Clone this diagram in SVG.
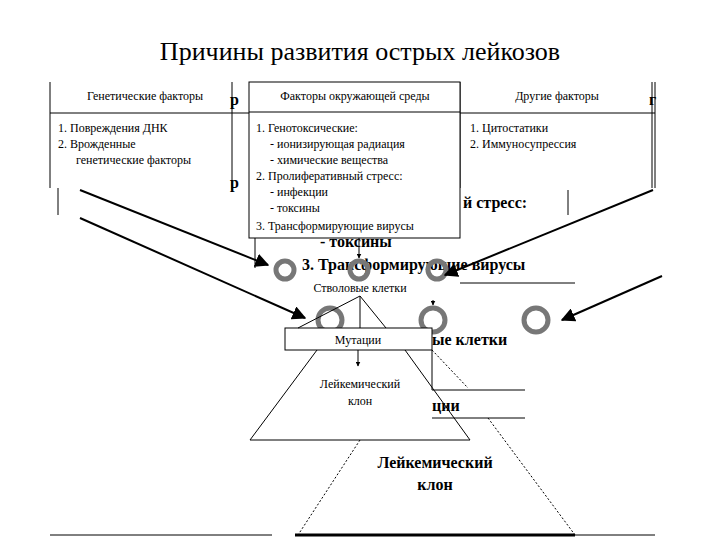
<svg xmlns="http://www.w3.org/2000/svg" width="720" height="540" viewBox="0 0 720 540">
<defs>
<marker id="ah" viewBox="0 0 10 10" refX="9" refY="5" markerWidth="7" markerHeight="7" orient="auto"><path d="M0,0L10,5L0,10z" fill="#000"/></marker>
<marker id="as" viewBox="0 0 10 10" refX="9" refY="5" markerWidth="5" markerHeight="5" orient="auto"><path d="M0,0L10,5L0,10z" fill="#000"/></marker>
</defs>
<style>
text{font-family:"Liberation Serif",serif;fill:#000}
.s{font-size:12px}
.b{font-size:16px;font-weight:bold}
.t{font-size:26px}
.l{stroke:#000;stroke-width:1;fill:none}
.ring{fill:none;stroke:#777;stroke-width:5}
.d{stroke:#000;stroke-width:1;stroke-dasharray:2,2;fill:none}
</style>
<rect width="720" height="540" fill="#fff"/>
<text class="t" x="360" y="60" text-anchor="middle">Причины развития острых лейкозов</text>

<g id="background">
<line class="l" x1="58" y1="188" x2="58" y2="215"/>
<line class="l" x1="568" y1="190" x2="568" y2="215"/>
<line class="l" x1="652" y1="82" x2="652" y2="188"/>
<text class="b" x="230" y="105">р</text>
<text class="b" x="230" y="188">р</text>
<text class="b" x="649" y="105">г</text>
<text class="b" x="463" y="208">й стресс:</text>
<text class="b" x="320" y="247">-  токсины</text>
<text class="b" x="302" y="270">3. Трансформирующие вирусы</text>
<line class="l" x1="460" y1="283" x2="575" y2="283"/>
<text class="b" x="432" y="345">ые клетки</text>
<line class="l" x1="432" y1="390" x2="525" y2="390"/>
<text class="b" x="432" y="411">ции</text>
<line class="l" x1="432" y1="418" x2="525" y2="418"/>
<line class="l" x1="432" y1="350" x2="432" y2="390"/>
<line class="d" x1="432" y1="350" x2="468" y2="388"/>
<line class="d" x1="360" y1="440" x2="298" y2="535"/>
<line class="d" x1="488" y1="418" x2="575" y2="535"/>
<line x1="295" y1="535" x2="575" y2="535" stroke="#000" stroke-width="3"/>
<line class="l" x1="50" y1="535" x2="272" y2="535"/>
<line class="l" x1="575" y1="535" x2="655" y2="535"/>
<text class="b" x="435" y="468" text-anchor="middle">Лейкемический</text>
<text class="b" x="435" y="490" text-anchor="middle">клон</text>
<circle class="ring" cx="330" cy="320" r="12" stroke-width="7"/>
<circle class="ring" cx="433" cy="320" r="12" stroke-width="7"/>
<circle class="ring" cx="536" cy="320" r="12" stroke-width="7"/>
</g>

<g id="table">
<line class="l" x1="50" y1="82" x2="50" y2="188"/>
<line class="l" x1="232" y1="82" x2="232" y2="190"/>
<line class="l" x1="655" y1="82" x2="655" y2="188"/>
<line class="l" x1="50" y1="113" x2="655" y2="113"/>
<line class="l" x1="460" y1="82" x2="460" y2="188"/>
<text class="s" x="145" y="100" text-anchor="middle">Генетические факторы</text>
<text class="s" x="557" y="100" text-anchor="middle">Другие факторы</text>
<text class="s" x="58" y="132">1. Повреждения ДНК</text>
<text class="s" x="58" y="148">2. Врожденные</text>
<text class="s" x="76" y="164">генетические факторы</text>
<text class="s" x="470" y="132">1. Цитостатики</text>
<text class="s" x="470" y="148">2. Иммуносупрессия</text>
</g>
<g id="env">
<rect x="249" y="82" width="211" height="156" fill="#fff" stroke="#000"/>
<line class="l" x1="249" y1="112" x2="460" y2="112"/>
<text class="s" x="355" y="100" text-anchor="middle">Факторы окружающей среды</text>
<text class="s" x="256" y="132">1. Генотоксические:</text>
<text class="s" x="270" y="148">-  ионизирующая радиация</text>
<text class="s" x="270" y="164">-  химические вещества</text>
<text class="s" x="256" y="180">2. Пролиферативный стресс:</text>
<text class="s" x="270" y="196">-  инфекции</text>
<text class="s" x="270" y="212">-  токсины</text>
<text class="s" x="256" y="230">3. Трансформирующие вирусы</text>
</g>
<g id="cells">
<circle class="ring" cx="285" cy="270" r="9"/>
<circle class="ring" cx="359" cy="270" r="9"/>
<circle class="ring" cx="437" cy="270" r="9"/>
<text class="s" x="360" y="292" text-anchor="middle">Стволовые клетки</text>
</g>
<g id="mut">
<rect x="285" y="328" width="147" height="22" fill="#fff" stroke="#000"/>
<text class="s" x="358" y="344" text-anchor="middle">Мутации</text>
</g>
<g id="clone">
<text class="s" x="360" y="388" text-anchor="middle">Лейкемический</text>
<text class="s" x="360" y="405" text-anchor="middle">клон</text>
</g>
<g id="connectors">
<line class="l" x1="360" y1="296" x2="298" y2="328"/>
<line class="l" x1="360" y1="296" x2="386" y2="328"/>
<line class="l" x1="360" y1="296" x2="360" y2="328"/>
<line class="l" x1="317" y1="350" x2="250" y2="440"/>
<line class="l" x1="405" y1="350" x2="470" y2="440"/>
<line class="l" x1="250" y1="440" x2="470" y2="440"/>
<line class="l" x1="358" y1="350" x2="358" y2="366" marker-end="url(#as)"/>
<line class="l" x1="359" y1="238" x2="359" y2="258" marker-end="url(#as)"/>
<line class="l" x1="433" y1="300" x2="433" y2="305" marker-end="url(#as)"/>
<line class="l" x1="255" y1="238" x2="255" y2="268"/>
<line x1="80" y1="190" x2="268" y2="265" stroke="#000" stroke-width="2" marker-end="url(#ah)"/>
<line x1="80" y1="218" x2="305" y2="318" stroke="#000" stroke-width="2" marker-end="url(#ah)"/>
<line x1="653" y1="190" x2="445" y2="275" stroke="#000" stroke-width="2" marker-end="url(#ah)"/>
<line x1="662" y1="276" x2="562" y2="320" stroke="#000" stroke-width="2" marker-end="url(#ah)"/>
</g>
</svg>
